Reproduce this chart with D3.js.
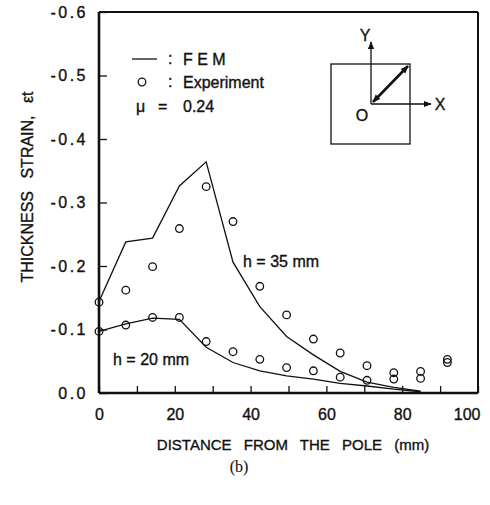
<!DOCTYPE html>
<html>
<head>
<meta charset="utf-8">
<script src="https://cdn.jsdelivr.net/npm/d3@7"></script>
<style>
  body { margin: 0; background: #fff; }
  svg { display: block; font-family: "Liberation Sans", Arial, sans-serif; }
  svg text { stroke: #111; stroke-width: 0.35px; }
</style>
</head>
<body>
<div id="chart"></div>
<script>
// distance along the diagonal (mm), nodes every 5*sqrt(2) mm
const femX = [0, 7.07, 14.14, 21.21, 28.28, 35.36, 42.43, 49.5, 56.57, 63.64, 70.71, 77.78, 84.85];
const fem35 = [-0.144, -0.238, -0.244, -0.326, -0.364, -0.206, -0.136, -0.089, -0.060, -0.034, -0.017, -0.009, -0.003];
const fem20 = [-0.097, -0.109, -0.118, -0.116, -0.072, -0.048, -0.035, -0.027, -0.022, -0.015, -0.011, -0.006, -0.002];

const expX = [0, 7.07, 14.14, 21.21, 28.28, 35.36, 42.43, 49.5, 56.57, 63.64, 70.71, 77.78, 84.85, 91.92];
const exp35 = [-0.143, -0.162, -0.199, -0.259, -0.325, -0.270, -0.168, -0.123, -0.085, -0.063, -0.043, -0.032, -0.034, -0.053];
const exp20 = [-0.097, -0.107, -0.119, -0.119, -0.081, -0.065, -0.053, -0.040, -0.035, -0.025, -0.020, -0.022, -0.023, -0.048];

const xTicks = [0, 10, 20, 30, 40, 50, 60, 70, 80, 90, 100];
const xTickLabels = [0, 20, 40, 60, 80, 100];
const yTicks = [0, -0.1, -0.2, -0.3, -0.4, -0.5, -0.6];

const margin = { top: 12, right: 12, bottom: 112, left: 99 };
const width = 490 - margin.left - margin.right;
const height = 505 - margin.top - margin.bottom;
const ink = '#111';

const svg = d3.select('#chart')
  .append('svg')
  .attr('width', 490)
  .attr('height', 505);

const g = svg.append('g')
  .attr('transform', 'translate(' + margin.left + ',' + margin.top + ')');

const x = d3.scaleLinear().domain([0, 100]).range([0, width]);
const y = d3.scaleLinear().domain([0, -0.6]).range([height, 0]);

// axes
const xAxis = d3.axisBottom(x)
  .tickValues(xTicks)
  .tickSize(-7)
  .tickPadding(16)
  .tickFormat(d => xTickLabels.includes(d) ? d : '');

const yAxis = d3.axisLeft(y)
  .tickValues(yTicks)
  .tickSize(-8)
  .tickPadding(11)
  .tickFormat(d => d === 0 ? '0.0' : '-' + Math.abs(d).toFixed(1));

const gx = g.append('g').attr('transform', 'translate(0,' + height + ')').call(xAxis);
const gy = g.append('g').call(yAxis);

[gx, gy].forEach(a => {
  a.select('.domain').remove();
  a.selectAll('line').attr('stroke', ink).attr('stroke-width', 1.3);
  a.selectAll('text').attr('fill', ink).style('font-size', '16px');
});
gy.selectAll('text').attr('letter-spacing', '2.5px');
// last label sits inside the frame corner
gx.selectAll('.tick text').filter(d => d === 100).attr('text-anchor', 'end').attr('dx', 2);

// frame
g.append('line').attr('x1', 0).attr('x2', width).attr('y1', 0).attr('y2', 0)
  .attr('stroke', ink).attr('stroke-width', 2);
g.append('line').attr('x1', width).attr('x2', width).attr('y1', 0).attr('y2', height)
  .attr('stroke', ink).attr('stroke-width', 2);
g.append('line').attr('x1', 0).attr('x2', width).attr('y1', height).attr('y2', height)
  .attr('stroke', ink).attr('stroke-width', 2.6);
g.append('line').attr('x1', 0).attr('x2', 0).attr('y1', 0).attr('y2', height)
  .attr('stroke', ink).attr('stroke-width', 2.6);

// FEM lines
const line = d3.line().x(d => x(d[0])).y(d => y(d[1]));
[fem35, fem20].forEach(series => {
  g.append('path')
    .datum(femX.map((d, i) => [d, series[i]]))
    .attr('d', line)
    .attr('fill', 'none')
    .attr('stroke', ink)
    .attr('stroke-width', 1.3);
});

// experiment points
[exp35, exp20].forEach(series => {
  g.selectAll(null)
    .data(expX.map((d, i) => [d, series[i]]))
    .join('circle')
    .attr('cx', d => x(d[0]))
    .attr('cy', d => y(d[1]))
    .attr('r', 3.8)
    .attr('fill', 'none')
    .attr('stroke', ink)
    .attr('stroke-width', 1.3);
});

// curve labels
g.append('text').attr('x', x(38)).attr('y', y(-0.198))
  .style('font-size', '16px').attr('fill', ink).text('h = 35 mm');
g.append('text').attr('x', x(3.7)).attr('y', y(-0.044))
  .style('font-size', '16px').attr('fill', ink).text('h = 20 mm');

// legend
const leg = svg.append('g').style('font-size', '16px').attr('fill', ink);
leg.append('line').attr('x1', 132).attr('x2', 157).attr('y1', 59).attr('y2', 59)
  .attr('stroke', ink).attr('stroke-width', 1.3);
leg.append('text').attr('x', 168).attr('y', 64).text(':');
leg.append('text').attr('x', 183).attr('y', 65).text('F E M');
leg.append('circle').attr('cx', 142).attr('cy', 82).attr('r', 3.8)
  .attr('fill', 'none').attr('stroke', ink).attr('stroke-width', 1.3);
leg.append('text').attr('x', 168).attr('y', 87).text(':');
leg.append('text').attr('x', 183).attr('y', 88).text('Experiment');
leg.append('text').attr('x', 136).attr('y', 112).text('μ');
leg.append('text').attr('x', 158).attr('y', 112).text('=');
leg.append('text').attr('x', 183).attr('y', 112).text('0.24');

// inset: loading direction sketch
const defs = svg.append('defs');
defs.append('marker').attr('id', 'ah').attr('viewBox', '0 0 10 10')
  .attr('refX', 9).attr('refY', 5).attr('markerWidth', 8).attr('markerHeight', 8)
  .attr('markerUnits', 'userSpaceOnUse').attr('orient', 'auto-start-reverse')
  .append('path').attr('d', 'M0,1 L10,5 L0,9 Z').attr('fill', ink);

const ins = svg.append('g');
ins.append('rect').attr('x', 331).attr('y', 64).attr('width', 79).attr('height', 80)
  .attr('fill', 'none').attr('stroke', ink).attr('stroke-width', 1.3);
ins.append('line').attr('x1', 371).attr('y1', 104).attr('x2', 371).attr('y2', 42)
  .attr('stroke', ink).attr('stroke-width', 1.3).attr('marker-end', 'url(#ah)');
ins.append('line').attr('x1', 371).attr('y1', 104).attr('x2', 431).attr('y2', 104)
  .attr('stroke', ink).attr('stroke-width', 1.3).attr('marker-end', 'url(#ah)');
ins.append('line').attr('x1', 373).attr('y1', 102).attr('x2', 408).attr('y2', 66)
  .attr('stroke', ink).attr('stroke-width', 2.6)
  .attr('marker-start', 'url(#ah)').attr('marker-end', 'url(#ah)');
ins.append('text').attr('x', 365).attr('y', 41).attr('text-anchor', 'middle')
  .style('font-size', '16px').attr('fill', ink).text('Y');
ins.append('text').attr('x', 440).attr('y', 110).attr('text-anchor', 'middle')
  .style('font-size', '16px').attr('fill', ink).text('X');
ins.append('text').attr('x', 362).attr('y', 121).attr('text-anchor', 'middle')
  .style('font-size', '16px').attr('fill', ink).text('O');

// axis titles
svg.append('text')
  .attr('x', 293).attr('y', 450)
  .attr('text-anchor', 'middle')
  .style('font-size', '15px')
  .attr('word-spacing', '8px')
  .attr('fill', ink)
  .text('DISTANCE FROM THE POLE (mm)');

const yt = svg.append('text')
  .attr('transform', 'translate(33,187) rotate(-90)')
  .attr('text-anchor', 'middle')
  .style('font-size', '16px')
  .attr('word-spacing', '8px')
  .attr('fill', ink);
yt.append('tspan').text('THICKNESS STRAIN, ε');
yt.append('tspan').text('t');

// caption
svg.append('text')
  .attr('x', 239).attr('y', 472)
  .attr('text-anchor', 'middle')
  .style('font-family', '"Liberation Serif", "DejaVu Serif", serif')
  .style('font-size', '16px')
  .style('stroke-width', '0.1px')
  .attr('fill', ink)
  .text('(b)');
</script>
</body>
</html>
